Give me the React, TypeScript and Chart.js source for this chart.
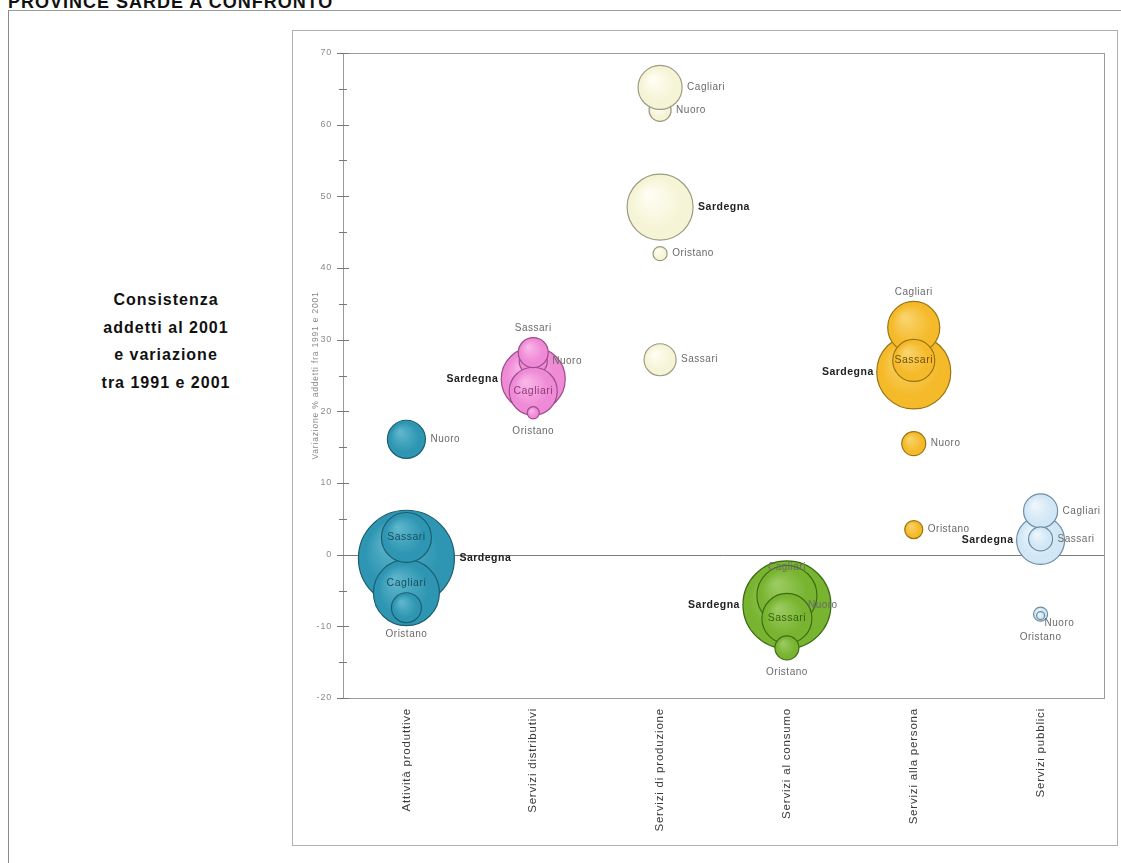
import React, { useEffect, useRef } from 'react';
import { Chart, registerables } from 'chart.js';

Chart.register(...registerables);

// ---------- DATA ----------
const categories = [
  'Attività produttive',
  'Servizi distributivi',
  'Servizi di produzione',
  'Servizi al consumo',
  'Servizi alla persona',
  'Servizi pubblici',
];

const cities = ['Sardegna', 'Nuoro', 'Cagliari', 'Sassari', 'Oristano'];

// Variazione % addetti fra 1991 e 2001 (y)
const variazioneSardegna = [-0.5, 24.5, 48.5, -7.0, 25.5, 2.0];
const variazioneCagliari = [-5.3, 22.8, 65.2, -5.7, 31.7, 6.1];
const variazioneSassari = [2.4, 28.2, 27.2, -8.9, 27.1, 2.2];
const variazioneNuoro = [16.1, 27.0, 62.0, -7.0, 15.5, -8.3];
const variazioneOristano = [-7.4, 19.8, 42.0, -13.0, 3.5, -8.5];

// Consistenza addetti al 2001 (migliaia, bubble size)
const addettiSardegna = [144, 64, 68, 121, 85.6, 36];
const addettiCagliari = [68, 36, 30.3, 56.3, 42.3, 18.1];
const addettiSassari = [39, 14, 16, 39, 27.6, 9];
const addettiNuoro = [22.6, 12.3, 7.6, 16, 9, 3.1];
const addettiOristano = [14, 2.3, 3.1, 9, 5.1, 1.0];

const yTickMin = -20;
const yTickMax = 70;

const variazioni: Record<string, number[]> = {
  Sardegna: variazioneSardegna,
  Cagliari: variazioneCagliari,
  Sassari: variazioneSassari,
  Nuoro: variazioneNuoro,
  Oristano: variazioneOristano,
};
const addetti: Record<string, number[]> = {
  Sardegna: addettiSardegna,
  Cagliari: addettiCagliari,
  Sassari: addettiSassari,
  Nuoro: addettiNuoro,
  Oristano: addettiOristano,
};

// ---------- STYLE ----------
const fills = ['#2e96b2', '#ef8ad6', '#f6f4d6', '#78b430', '#f5ba2a', '#d2e7f5'];
const highlights = ['#5fb6cc', '#f8b6e8', '#fefef4', '#9ccb62', '#f9d46e', '#eef6fc'];
const borders = ['#1c5d70', '#a04c8c', '#9c9c82', '#3b6e14', '#9a7412', '#6d8da6'];
const innerText = ['#174f60', '#8e3a78', '#666666', '#355f10', '#6e5200', '#555555'];

// label placement per city and category
const placement: Record<string, string[]> = {
  Sardegna: ['r', 'l', 'r', 'l', 'l', 'l'],
  Cagliari: ['cu', 'c', 'r', 'ti', 't', 'r'],
  Sassari: ['c', 't', 'r', 'c', 'c', 'r'],
  Nuoro: ['r', 'r', 'r', 'r', 'r', 'br'],
  Oristano: ['b', 'b', 'r', 'b', 'r', 'bb'],
};

const FONT = '"Liberation Sans", Arial, sans-serif';
const radiusOf = (v: number) => 4 * Math.sqrt(v);

const zeroPadding = (scale: any) => {
  scale.paddingTop = 0;
  scale.paddingBottom = 0;
  scale.paddingLeft = 0;
  scale.paddingRight = 0;
};

const spacing = {
  id: 'spacing',
  beforeLayout(chart: any) {
    chart.ctx.letterSpacing = '0.8px';
  },
  beforeDraw(chart: any) {
    chart.ctx.letterSpacing = '0.8px';
  },
};

const frameAndLabels = {
  id: 'frameAndLabels',
  beforeDatasetsDraw(chart: any) {
    const { ctx, chartArea: a, scales } = chart;
    const y = scales.y;
    ctx.save();
    ctx.strokeStyle = '#9a9a9a';
    ctx.lineWidth = 1;
    ctx.strokeRect(Math.round(a.left) + 0.5, Math.round(a.top) + 0.5, Math.round(a.right - a.left), Math.round(a.bottom - a.top));
    const y0 = Math.round(y.getPixelForValue(0)) + 0.5;
    ctx.strokeStyle = '#7a7a7a';
    ctx.beginPath();
    ctx.moveTo(a.left, y0);
    ctx.lineTo(a.right, y0);
    ctx.stroke();
    // tick marks crossing the y axis
    ctx.strokeStyle = '#777';
    y.ticks.forEach((t: any) => {
      const py = Math.round(y.getPixelForValue(t.value)) + 0.5;
      const len = t.value % 10 === 0 ? 6 : 4;
      ctx.beginPath();
      ctx.moveTo(a.left - len, py);
      ctx.lineTo(a.left + len, py);
      ctx.stroke();
    });
    ctx.restore();
  },
  afterDatasetsDraw(chart: any) {
    const { ctx } = chart;
    ctx.save();
    ctx.letterSpacing = '0.5px';
    chart.data.datasets.forEach((ds: any, di: number) => {
      const meta = chart.getDatasetMeta(di);
      const city = ds.label as string;
      meta.data.forEach((el: any, i: number) => {
        const r = el.options.radius;
        const cx = el.x;
        const cy = el.y;
        const p = placement[city][i];
        const bold = city === 'Sardegna';
        ctx.font = bold ? `bold 10.5px ${FONT}` : `10px ${FONT}`;
        ctx.fillStyle = bold ? '#222' : '#6a6a6a';
        ctx.textBaseline = 'middle';
        let tx = cx;
        let ty = cy;
        ctx.textAlign = 'center';
        if (p === 'r') { tx = cx + r + 5; ctx.textAlign = 'left'; }
        else if (p === 'l') { tx = cx - r - 3; ctx.textAlign = 'right'; }
        else if (p === 't') { ty = cy - r - 9; }
        else if (p === 'ti') { ty = cy - r + 2; }
        else if (p === 'b') { ty = cy + r + 12; }
        else if (p === 'bb') { ty = cy + r + 18; }
        else if (p === 'br') { tx = cx + 4; ty = cy + r + 2; ctx.textAlign = 'left'; }
        else if (p === 'c' || p === 'cu') {
          ctx.fillStyle = innerText[i];
          ctx.font = `10.5px ${FONT}`;
          if (p === 'cu') ty = cy - r * 0.28;
        }
        ctx.fillText(city, tx, ty);
      });
    });
    ctx.restore();
  },
};

const bubbleFill = (c: any) => {
  const i = c.dataIndex;
  const chart = c.chart;
  const raw = c.raw;
  if (!raw || !chart.scales || !chart.scales.x || !chart.chartArea) return fills[i];
  const cx = chart.scales.x.getPixelForValue(raw.x);
  const cy = chart.scales.y.getPixelForValue(raw.y);
  const r = raw.r;
  if (!isFinite(cx) || !isFinite(cy)) return fills[i];
  const g = chart.ctx.createRadialGradient(cx - r * 0.35, cy - r * 0.4, r * 0.05, cx, cy, r);
  g.addColorStop(0, highlights[i]);
  g.addColorStop(0.75, fills[i]);
  g.addColorStop(1, fills[i]);
  return g;
};

export default function App() {
  const ref = useRef<HTMLCanvasElement | null>(null);

  useEffect(() => {
    if (!ref.current) return;
    const order = ['Oristano', 'Sassari', 'Cagliari', 'Nuoro', 'Sardegna'];
    const datasets = order.map((city) => ({
      label: city,
      data: categories.map((_, i) => ({
        x: i,
        y: variazioni[city][i],
        r: radiusOf(addetti[city][i]),
      })),
      backgroundColor: bubbleFill,
      borderColor: borders,
      borderWidth: 1.2,
      hoverRadius: 0,
    }));

    const chart = new Chart(ref.current, {
      type: 'bubble',
      data: { datasets },
      plugins: [spacing, frameAndLabels],
      options: {
        animation: false,
        responsive: false,
        maintainAspectRatio: false,
        events: [],
        layout: { autoPadding: false, padding: { top: 22, right: 13, left: 0, bottom: 0 } },
        plugins: {
          legend: { display: false },
          tooltip: { enabled: false },
        },
        scales: {
          x: {
            type: 'linear',
            min: -0.5,
            max: categories.length - 0.5,
            grid: { display: false },
            border: { display: false },
            afterBuildTicks: (scale: any) => {
              scale.ticks = categories.map((_, i) => ({ value: i }));
            },
            afterFit: (scale: any) => {
              scale.height = 147;
              zeroPadding(scale);
            },
            ticks: {
              autoSkip: false,
              minRotation: 90,
              maxRotation: 90,
              padding: 2,
              color: '#3a3a3a',
              font: { family: FONT, size: 11.5 },
              callback: (v: any) => categories[Math.round(Number(v))] ?? '',
            },
          },
          y: {
            min: yTickMin,
            max: yTickMax,
            grid: { display: false, drawTicks: false },
            border: { display: false },
            afterFit: (scale: any) => {
              scale.width = 50;
              zeroPadding(scale);
            },
            ticks: {
              stepSize: 5,
              padding: 11,
              color: '#8a8a8a',
              font: { family: FONT, size: 9 },
              callback: (v: any) => (Number(v) % 10 === 0 ? String(v) : ''),
            },
            title: {
              display: true,
              text: 'Variazione % addetti fra 1991 e 2001',
              color: '#8a8a8a',
              font: { family: FONT, size: 8.5 },
              padding: { top: 18, bottom: 0 },
            },
          },
        },
      },
    } as any);
    return () => chart.destroy();
  }, []);

  return (
    <div
      style={{
        position: 'absolute',
        left: 0,
        top: 0,
        width: 1121,
        height: 863,
        overflow: 'hidden',
        background: '#fff',
        fontFamily: FONT,
      }}
    >
      <div
        style={{
          position: 'absolute',
          left: 8,
          top: -7,
          fontSize: 18,
          lineHeight: '18px',
          fontWeight: 'bold',
          letterSpacing: 1,
          color: '#111',
          whiteSpace: 'nowrap',
        }}
      >
        PROVINCE SARDE A CONFRONTO
      </div>
      <div
        style={{
          position: 'absolute',
          left: 8,
          top: 10,
          width: 1130,
          height: 870,
          borderLeft: '1px solid #8a8a8a',
          borderTop: '1px solid #9a9a9a',
        }}
      />
      <div
        style={{
          position: 'absolute',
          left: 66,
          top: 286,
          width: 200,
          textAlign: 'center',
          fontSize: 16,
          lineHeight: '27.7px',
          fontWeight: 'bold',
          letterSpacing: 1,
          color: '#111',
        }}
      >
        Consistenza
        <br />
        addetti al 2001
        <br />
        e variazione
        <br />
        tra 1991 e 2001
      </div>
      <div
        style={{
          position: 'absolute',
          left: 292,
          top: 30,
          width: 824,
          height: 814,
          border: '1px solid #b0b0b0',
        }}
      >
        <canvas ref={ref} width={824} height={814} style={{ display: 'block', width: 824, height: 814 }} />
      </div>
    </div>
  );
}
